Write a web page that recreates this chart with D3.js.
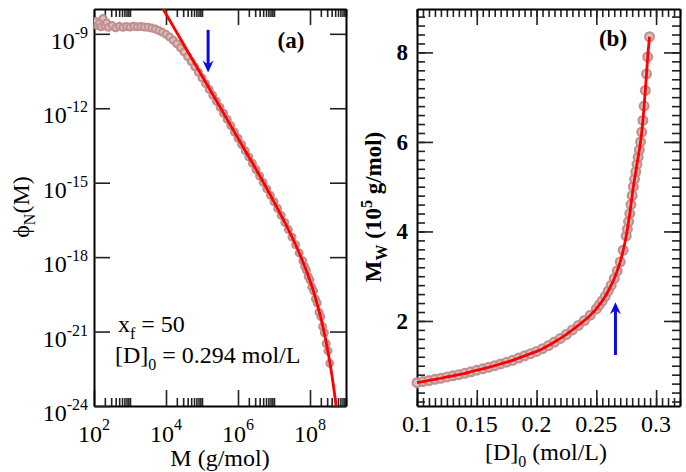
<!DOCTYPE html>
<html>
<head>
<meta charset="utf-8">
<script src="https://cdn.jsdelivr.net/npm/d3@7"></script>
<style>
  body { margin: 0; background: #fff; }
  svg text { font-family: "Liberation Serif", "Times New Roman", serif; fill: #000; }
  .domain { stroke: #000; stroke-width: 2; }
  .tick line { stroke: #222; stroke-width: 1.6; }
</style>
</head>
<body>
<div id="chart"></div>
<script>
// ---------- panel (a): number distribution, log10 values ----------
const simLogM = [2.0, 2.05, 2.1, 2.15, 2.2, 2.25, 2.3, 2.35, 2.4, 2.5, 2.6, 2.7, 2.8, 2.9,
  3.0, 3.1, 3.2, 3.3, 3.4, 3.5, 3.6, 3.7, 3.8, 3.9, 4.0, 4.1, 4.2, 4.3, 4.4, 4.5, 4.6, 4.7,
  4.8, 4.9, 5.0, 5.1, 5.2, 5.3, 5.4, 5.5, 5.6, 5.7, 5.8, 5.9, 6.0, 6.1, 6.2, 6.3, 6.4, 6.5,
  6.6, 6.7, 6.8, 6.9, 7.0, 7.1, 7.2, 7.3, 7.4, 7.5, 7.6, 7.7, 7.8, 7.85, 7.9, 7.95, 8.0,
  8.05, 8.1, 8.15, 8.2, 8.25, 8.3, 8.35, 8.4, 8.45, 8.5, 8.55];
const simLogPhi = [-8.62, -8.50, -8.66, -8.58, -8.72, -8.38, -8.68, -8.56, -8.74, -8.66, -8.76, -8.70, -8.74, -8.71,
  -8.73, -8.70, -8.72, -8.71, -8.73, -8.74, -8.77, -8.81, -8.87, -8.94, -9.02, -9.13, -9.26, -9.40, -9.56, -9.73, -9.92, -10.12,
  -10.33, -10.55, -10.78, -11.01, -11.24, -11.48, -11.72, -11.96, -12.20, -12.45, -12.70, -12.96, -13.21, -13.46, -13.71, -13.96, -14.22, -14.47,
  -14.73, -14.99, -15.25, -15.51, -15.77, -16.04, -16.32, -16.60, -16.89, -17.19, -17.50, -17.83, -18.15, -18.38, -18.53, -18.78, -18.92,
  -19.20, -19.36, -19.68, -19.85, -20.22, -20.40, -20.80, -21.05, -21.48, -21.78, -22.28];

// red fit curve of panel (a)
const fitLogM   = [3.92, 4.5, 5.0, 5.5, 6.0, 6.5, 7.0, 7.25, 7.5, 7.75, 8.0, 8.1, 8.2, 8.3, 8.4, 8.5, 8.6, 8.7, 8.75];
const fitLogPhi = [-8.00, -9.45, -10.70, -11.95, -13.21, -14.46, -15.77, -16.46, -17.19, -18.00, -18.95, -19.39, -19.89, -20.44, -21.08, -21.82, -22.68, -23.70, -24.28];

// ---------- panel (b): weight-average mass vs [D]0 ----------
const simD0 = [0.100, 0.105, 0.110, 0.115, 0.120, 0.125, 0.130, 0.135, 0.140, 0.145, 0.150, 0.155,
  0.160, 0.165, 0.170, 0.175, 0.180, 0.185, 0.190, 0.195, 0.200, 0.205, 0.210, 0.215, 0.220, 0.225,
  0.230, 0.235, 0.240, 0.245, 0.250, 0.2525, 0.255, 0.2575, 0.260, 0.2625, 0.265, 0.2675, 0.270, 0.2725,
  0.275, 0.276, 0.277, 0.278, 0.279, 0.280, 0.281, 0.282, 0.283, 0.284, 0.285, 0.286, 0.287, 0.288,
  0.289, 0.290, 0.291, 0.292, 0.293, 0.2945];
const simMw = [0.62, 0.645, 0.67, 0.695, 0.72, 0.75, 0.775, 0.80, 0.83, 0.865, 0.90, 0.93,
  0.965, 1.00, 1.04, 1.08, 1.12, 1.17, 1.22, 1.27, 1.32, 1.38, 1.45, 1.53, 1.61, 1.70,
  1.80, 1.90, 2.01, 2.13, 2.27, 2.36, 2.45, 2.55, 2.67, 2.80, 2.95, 3.12, 3.32, 3.58,
  3.90, 4.05, 4.22, 4.40, 4.60, 4.80, 5.00, 5.17, 5.33, 5.50, 5.66, 5.82, 6.00, 6.22,
  6.48, 6.80, 7.15, 7.52, 7.90, 8.35];

// tick values / labels
const aTickExpX = [2, 4, 6, 8];
const aTickExpY = [-9, -12, -15, -18, -21, -24];
const bTicksX = [0.1, 0.15, 0.2, 0.25, 0.3];
const bTicksY = [2, 4, 6, 8];

// arrows (data units)
const arrowA = { logM: 5.17, from: -8.84, to: -10.56 };
const arrowB = { d: 0.266, from: 1.24, to: 2.42 };

const svg = d3.select("#chart").append("svg")
  .attr("width", 686).attr("height", 472);

// scales
const ax = d3.scaleLog().domain([1e2, 1e9]).range([94, 346]);
const ay = d3.scaleLog().domain([1e-24, 1e-8]).range([406, 9]);
const bx = d3.scaleLinear().domain([0.1, 0.32]).range([417, 680]);
const by = d3.scaleLinear().domain([0.1, 8.97]).range([406, 9]);

// inside ticks on all four sides
function drawFrame(x, y, xMajor, xMinor, yMajor, yMinor) {
  const [x0, x1] = x.range();
  const [y0, y1] = y.range();
  const g = svg.append("g");
  const put = (axis, tx, ty, vals, size, keepDomain) => {
    const a = g.append("g").attr("transform", `translate(${tx},${ty})`)
      .call(axis.tickValues(vals).tickSizeInner(-size).tickSizeOuter(0).tickFormat(""));
    if (!keepDomain) a.select(".domain").remove();
  };
  put(d3.axisBottom(x), 0, y0, xMinor, 8, false);
  put(d3.axisTop(x), 0, y1, xMinor, 8, false);
  put(d3.axisLeft(y), x0, 0, yMinor, 8, false);
  put(d3.axisRight(y), x1, 0, yMinor, 8, false);
  put(d3.axisBottom(x), 0, y0, xMajor, 16, true);
  put(d3.axisTop(x), 0, y1, xMajor, 16, true);
  put(d3.axisLeft(y), x0, 0, yMajor, 16, true);
  put(d3.axisRight(y), x1, 0, yMajor, 16, true);
}

function drawArrow(px, yFrom, yTo) {
  const dir = yTo > yFrom ? 1 : -1;
  svg.append("line")
    .attr("x1", px).attr("x2", px)
    .attr("y1", yFrom).attr("y2", yTo - dir * 8)
    .attr("stroke", "#0a0ae6").attr("stroke-width", 3);
  svg.append("path")
    .attr("d", `M${px},${yTo} L${px - 5.5},${yTo - dir * 12} L${px},${yTo - dir * 8} L${px + 5.5},${yTo - dir * 12} Z`)
    .attr("fill", "#0a0ae6");
}

// ---------- panel (a) ----------
const aMinor = [];
aTickExpX.forEach(e => { for (let k = 2; k <= 10; k++) aMinor.push(k * Math.pow(10, e)); });
drawFrame(ax, ay, aTickExpX.map(e => Math.pow(10, e)), aMinor.filter(v => v <= 1e9),
  aTickExpY.map(e => Math.pow(10, e)), []);

svg.append("clipPath").attr("id", "clipA").append("rect")
  .attr("x", 94).attr("y", 9).attr("width", 252).attr("height", 397);

const gA = svg.append("g").attr("clip-path", "url(#clipA)");
gA.selectAll("circle").data(simLogM).join("circle")
  .attr("cx", d => ax(Math.pow(10, d)))
  .attr("cy", (d, i) => ay(Math.pow(10, simLogPhi[i])))
  .attr("r", 3.4)
  .attr("fill", "#dcc0c0")
  .attr("stroke", "#c09090")
  .attr("stroke-width", 2.2);

const lineA = d3.line()
  .x(d => ax(Math.pow(10, d[0])))
  .y(d => ay(Math.pow(10, d[1])))
  .curve(d3.curveMonotoneX);
gA.append("path")
  .datum(fitLogM.map((m, i) => [m, fitLogPhi[i]]))
  .attr("d", lineA)
  .attr("fill", "none").attr("stroke", "#f00").attr("stroke-width", 2.8);

drawArrow(ax(Math.pow(10, arrowA.logM)), ay(Math.pow(10, arrowA.from)), ay(Math.pow(10, arrowA.to)));

// tick labels (a)
aTickExpX.forEach(e => {
  const t = svg.append("text").attr("x", ax(Math.pow(10, e))).attr("y", 442)
    .attr("text-anchor", "middle").style("font-size", "24px");
  t.append("tspan").text("10");
  t.append("tspan").attr("dy", -12).style("font-size", "16px").text(e);
});
aTickExpY.forEach(e => {
  const t = svg.append("text").attr("x", 88).attr("y", ay(Math.pow(10, e)) + 15)
    .attr("text-anchor", "end").style("font-size", "24px");
  t.append("tspan").text("10");
  t.append("tspan").attr("dy", -11).style("font-size", "16px").text(e);
});

svg.append("text").attr("x", 220).attr("y", 466).attr("text-anchor", "middle")
  .style("font-size", "24px").text("M (g/mol)");

const phiLab = svg.append("text").attr("transform", "translate(29,207) rotate(-90)")
  .attr("text-anchor", "middle").style("font-size", "24px");
phiLab.append("tspan").text("\u03d5");
phiLab.append("tspan").attr("dy", 6).style("font-size", "16px").text("N");
phiLab.append("tspan").attr("dy", -6).text("(M)");

svg.append("text").attr("x", 291).attr("y", 48).attr("text-anchor", "middle")
  .style("font-size", "23px").style("font-weight", "bold").text("(a)");

const xf = svg.append("text").attr("x", 118).attr("y", 332).style("font-size", "24px");
xf.append("tspan").text("x");
xf.append("tspan").attr("dy", 7).style("font-size", "16px").text("f");
xf.append("tspan").attr("dy", -7).text(" = 50");

const d0 = svg.append("text").attr("x", 115).attr("y", 363).style("font-size", "24px");
d0.append("tspan").text("[D]");
d0.append("tspan").attr("dy", 7).style("font-size", "16px").text("0");
d0.append("tspan").attr("dy", -7).text(" = 0.294 mol/L");

// ---------- panel (b) ----------
const bMinorX = d3.range(0, 45).map(i => +(0.1 + i * 0.005).toFixed(3)).filter(v => v <= 0.32);
const bMinorY = d3.range(1, 45).map(i => +(i * 0.2).toFixed(1)).filter(v => v >= 0.1 && v <= 8.97);
drawFrame(bx, by, bTicksX, bMinorX, bTicksY, bMinorY);

const gB = svg.append("g");
gB.selectAll("circle").data(simD0).join("circle")
  .attr("cx", d => bx(d))
  .attr("cy", (d, i) => by(simMw[i]))
  .attr("r", 4.4)
  .attr("fill", "#dcc0c0")
  .attr("stroke", "#c09090")
  .attr("stroke-width", 2.2);

const lineB = d3.line()
  .x(d => bx(d[0]))
  .y(d => by(d[1]))
  .curve(d3.curveMonotoneX);
gB.append("path")
  .datum(simD0.map((d, i) => [d, simMw[i]]))
  .attr("d", lineB)
  .attr("fill", "none").attr("stroke", "#f00").attr("stroke-width", 2.8);

drawArrow(bx(arrowB.d), by(arrowB.from), by(arrowB.to));

bTicksX.forEach(v => {
  svg.append("text").attr("x", bx(v)).attr("y", 432).attr("text-anchor", "middle")
    .style("font-size", "24px").text(v);
});
bTicksY.forEach(v => {
  svg.append("text").attr("x", 408).attr("y", by(v) + 8).attr("text-anchor", "end")
    .style("font-size", "23px").style("font-weight", "bold").text(v);
});

svg.append("text").attr("x", 613).attr("y", 46).attr("text-anchor", "middle")
  .style("font-size", "23px").style("font-weight", "bold").text("(b)");

const dLab = svg.append("text").attr("x", 546).attr("y", 460).attr("text-anchor", "middle")
  .style("font-size", "24px");
dLab.append("tspan").text("[D]");
dLab.append("tspan").attr("dy", 7).style("font-size", "16px").text("0");
dLab.append("tspan").attr("dy", -7).text(" (mol/L)");

const mwLab = svg.append("text").attr("transform", "translate(381,207) rotate(-90)")
  .attr("text-anchor", "middle").style("font-size", "23px").style("font-weight", "bold");
mwLab.append("tspan").text("M");
mwLab.append("tspan").attr("dy", 6).style("font-size", "16px").text("W");
mwLab.append("tspan").attr("dy", -6).text(" (10");
mwLab.append("tspan").attr("dy", -9).style("font-size", "16px").text("5");
mwLab.append("tspan").attr("dy", 9).text(" g/mol)");
</script>
</body>
</html>
